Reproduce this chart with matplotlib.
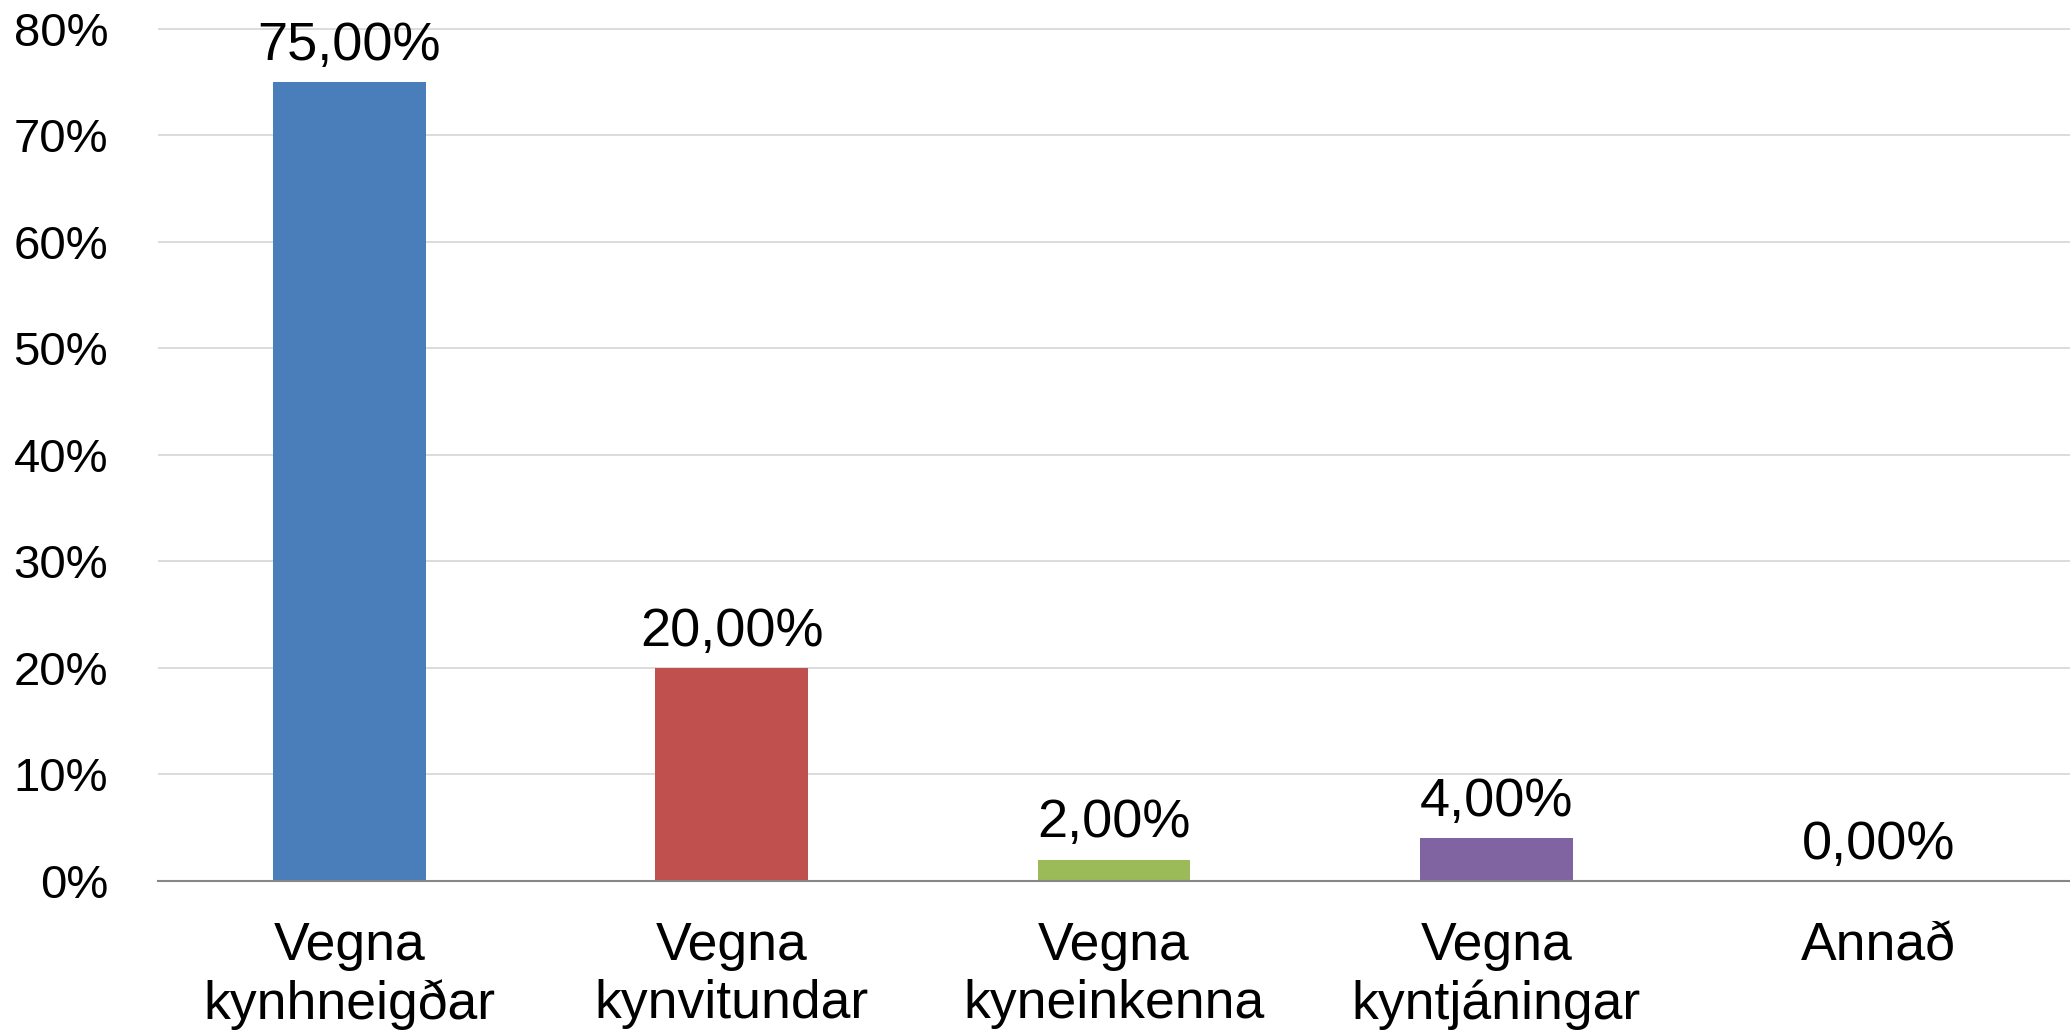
import numpy as np
import matplotlib.pyplot as plt

plt.rcParams['font.family'] = ['Liberation Sans', 'DejaVu Sans']

# Data
categories = ['Vegna\nkynhneigðar', 'Vegna\nkynvitundar', 'Vegna\nkyneinkenna',
              'Vegna\nkyntjáningar', 'Annað']
values = [75.0, 20.0, 2.0, 4.0, 0.0]
colors = ['#4A7EBB', '#C0504D', '#9BBB59', '#8064A2', '#4A7EBB']
y_ticks = [0, 10, 20, 30, 40, 50, 60, 70, 80]

fig = plt.figure(figsize=(20.7, 10.35), dpi=100)
ax = fig.add_axes([158 / 2070, 154 / 1035, 1 - 158 / 2070, 1 - 154 / 1035])

x = np.arange(len(categories))
ax.bar(x, values, width=0.4, color=colors, zorder=3)

for xi, v in zip(x, values):
    label = f'{v:.2f}'.replace('.', ',') + '%'
    ax.annotate(label, (xi, v), xytext=(0, 16), textcoords='offset points',
                ha='center', va='baseline', fontsize=39)

ax.set_xlim(-0.5, len(categories) - 0.5)
ax.set_ylim(0, 82.7)
ax.set_yticks(y_ticks)
ax.set_yticklabels([f'{t}%' for t in y_ticks], fontsize=34)
ax.set_xticks(x)
ax.set_xticklabels(categories, fontsize=38.5, linespacing=1.2)
ax.tick_params(axis='y', length=0, pad=36)
ax.tick_params(axis='x', length=0, pad=29)

ax.grid(axis='y', color='#D9D9D9', linewidth=1.3, zorder=0)
for s in ['top', 'right', 'left']:
    ax.spines[s].set_visible(False)
ax.spines['bottom'].set_color('#868686')
ax.spines['bottom'].set_linewidth(1.5)
ax.spines['bottom'].set_zorder(4)

plt.savefig('out.png', dpi=100)
